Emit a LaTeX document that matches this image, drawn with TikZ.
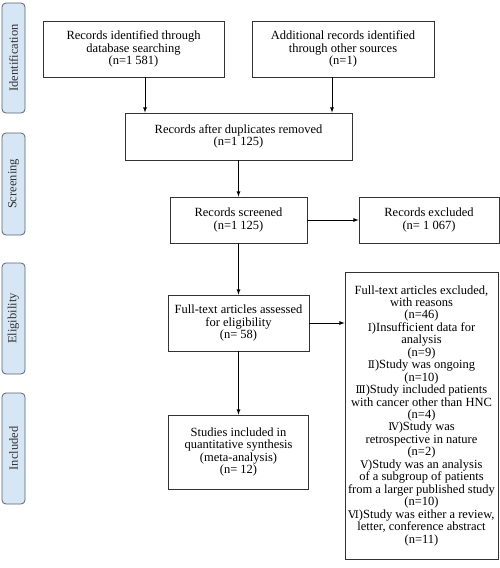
\documentclass[tikz,border=0pt]{standalone}
\usepackage{fontspec}
\setmainfont{Liberation Serif}
\newfontfamily\romfont{DejaVu Serif}
\usetikzlibrary{arrows,shapes,positioning}
\definecolor{phasefill}{RGB}{214,230,245}
\definecolor{phasedraw}{RGB}{88,100,115}
\tikzset{
  basic/.style  = {draw=black!80, line width=0.8pt, rectangle, align=center,
                   font=\fontsize{12.5}{12.2}\selectfont, inner sep=1pt},
  record/.style = {basic, minimum height=56pt},
  reasons/.style = {basic, minimum width=153pt, minimum height=287pt,
                    font=\fontsize{12.5}{12.45}\selectfont},
  phase/.style  = {draw=phasedraw, fill=phasefill, line width=0.8pt, rounded corners=4pt,
                   rotate=90, minimum height=23pt, text=black!80,
                   font=\fontsize{12.5}{12.5}\selectfont}
}
\newcommand{\rom}[1]{{\romfont\fontsize{10.5}{12}\selectfont #1}}

\begin{document}
\begin{tikzpicture}[x=1pt, y=-1pt, >=latex]
\useasboundingbox (0,0) rectangle (500,568);

% stages on the left
\foreach \name/\ypos/\len in {Identification/58/110, Screening/184/102,
                              Eligibility/318.5/111, Included/448.5/111}
  \node[phase, minimum width=\len pt] (p\name) at (13.5,\ypos) {\name};

% first row
\node[record, minimum width=181pt] (A) at (133.5,49)
  {Records identified through \\ database searching \\ (n=1 581)};
\node[record, minimum width=182pt] (B) at (343,49)
  {Additional records identified \\ through other sources \\ (n=1)};

% middle column, relatively positioned nodes
\node[basic, minimum width=227pt, minimum height=47pt] (C) at (238.5,136.5)
  {Records after duplicates removed \\ (n=1 125)};
\node[basic, below of = C, node distance=83.5pt, minimum width=137pt, minimum height=46pt] (D)
  {Records screened \\ (n=1 125)};
\node[record, below of = D, node distance=103pt, minimum width=141pt] (F)
  {Full-text articles assessed \\ for eligibility \\ (n= 58)};
\node[basic, below of = F, node distance=129pt, minimum width=140pt, minimum height=74pt] (H)
  {Studies included in \\ quantitative synthesis \\ (meta-analysis) \\ (n= 12)};

% exclusions on the right
\node[basic, right of = D, node distance=190.5pt, minimum width=140pt, minimum height=46pt] (E)
  {Records excluded \\ (n= 1 067)};
\node[reasons, right of = F, node distance=183pt, yshift=-92.5pt] (G)
  {Full-text articles excluded, \\ with reasons \\ (n=46) \\
   \rom{Ⅰ})Insufficient data for \\ analysis \\ (n=9) \\
   \rom{Ⅱ})Study was ongoing \\ (n=10) \\
   \rom{Ⅲ})Study included patients \\ with cancer other than HNC \\ (n=4) \\
   \rom{Ⅳ})Study was \\ retrospective in nature \\ (n=2) \\
   \rom{Ⅴ})Study was an analysis \\ of a subgroup of patients \\ from a larger published study \\ (n=10) \\
   \rom{Ⅵ})Study was either a review, \\ letter, conference abstract \\ (n=11)};

\draw[->, line width=0.8pt] ([xshift=11.5pt]A.south) -- ([xshift=11.5pt]A.south |- C.north);
\draw[->, line width=0.8pt] ([xshift=-11pt]B.south) -- ([xshift=-11pt]B.south |- C.north);
\draw[->, line width=0.8pt] (C) -- (D);
\draw[->, line width=0.8pt] (D) -- (E);
\draw[->, line width=0.8pt] (D) -- (F);
\draw[->, line width=0.8pt] (F.east) -- (F.east -| G.west);
\draw[->, line width=0.8pt] (F) -- (H);
\end{tikzpicture}
\end{document}
